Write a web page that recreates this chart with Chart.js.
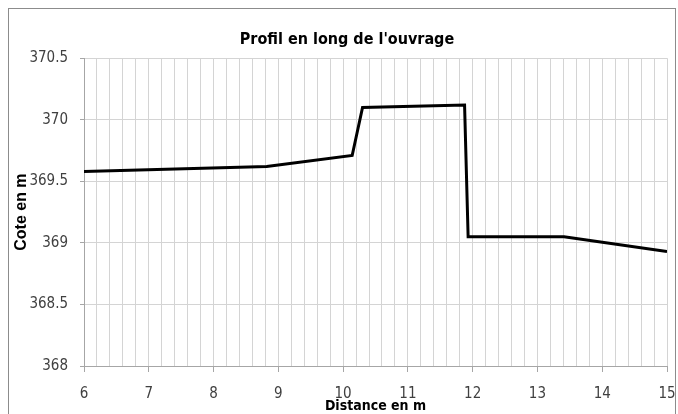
<!DOCTYPE html>
<html>
<head>
<meta charset="utf-8">
<script src="https://cdn.jsdelivr.net/npm/chart.js@4.4.1/dist/chart.umd.min.js"></script>
<style>
  html, body { margin: 0; padding: 0; background: #fff; }
  #wrap { width: 678px; height: 414px; position: relative; }
</style>
</head>
<body>
<div id="wrap"><canvas id="c" width="678" height="414"></canvas></div>
<script>
// Data
const distances = [6, 8.82, 10.14, 10.30, 11.875, 11.93, 13.41, 15];
const cotes     = [369.58, 369.62, 369.71, 370.10, 370.12, 369.05, 369.05, 368.93];
const xTickLabels = [6, 7, 8, 9, 10, 11, 12, 13, 14, 15];
const yTickLabels = [368, 368.5, 369, 369.5, 370, 370.5];
const chartTitle = "Profil en long de l'ouvrage";
const xTitle = "Distance en m";
const yTitle = "Cote en m";

const NARROW = "'Liberation Sans Narrow','DejaVu Sans Condensed','Liberation Sans',sans-serif";
const WIDE = "'Liberation Sans',Arial,sans-serif";
const GRID = '#d4d4d4';
const AXIS = '#a6a6a6';
const isLabelX = v => xTickLabels.some(t => Math.abs(t - v) < 1e-6);

const borderPlugin = {
  id: 'frame',
  beforeDraw(chart) {
    const ctx = chart.ctx;
    ctx.save();
    ctx.fillStyle = '#fff';
    ctx.fillRect(0, 0, chart.width, chart.height);
    ctx.strokeStyle = '#8c8c8c';
    ctx.lineWidth = 1;
    ctx.strokeRect(8.5, 8.5, 667, 480);
    ctx.restore();
  }
};

new Chart(document.getElementById('c'), {
  type: 'scatter',
  data: {
    datasets: [{
      data: distances.map((d, i) => ({x: d, y: cotes[i]})),
      showLine: true,
      borderColor: '#000',
      borderWidth: 3,
      pointRadius: 0,
      tension: 0,
      fill: false
    }]
  },
  options: {
    responsive: false,
    animation: false,
    layout: { padding: { left: 16, right: 0, top: 0, bottom: 0 } },
    plugins: {
      legend: { display: false },
      tooltip: { enabled: false },
      title: {
        display: true,
        text: chartTitle,
        color: '#000',
        font: { family: NARROW, size: 16, weight: 'bold', lineHeight: 1.2 },
        padding: { top: 30, bottom: 9 }
      }
    },
    scales: {
      x: {
        type: 'linear',
        min: 6, max: 15,
        afterFit: s => { s.height = 48; s.paddingRight = 11; s.paddingLeft = 0; },
        ticks: {
          stepSize: 0.2,
          autoSkip: false,
          maxRotation: 0,
          minRotation: 0,
          padding: 13,
          color: '#404040',
          font: { family: NARROW, size: 15 },
          callback: v => isLabelX(v) ? String(Math.round(v)) : ''
        },
        grid: {
          color: GRID,
          lineWidth: 1,
          drawTicks: true,
          tickLength: 6,
          tickColor: c => (c.tick && isLabelX(c.tick.value)) ? AXIS : 'rgba(0,0,0,0)'
        },
        border: { color: AXIS, width: 1 },
        title: {
          display: true,
          text: xTitle,
          color: '#000',
          font: { family: NARROW, size: 14, weight: 'bold', lineHeight: 1 },
          padding: { top: 0, bottom: 1 }
        }
      },
      y: {
        type: 'linear',
        min: 368, max: 370.5,
        afterFit: s => { s.width = 68; },
        afterBuildTicks: s => { s.ticks = yTickLabels.map(v => ({value: v})); },
        ticks: {
          padding: 12,
          color: '#404040',
          font: { family: NARROW, size: 15 },
          callback: v => String(v)
        },
        grid: {
          color: GRID,
          lineWidth: 1,
          tickLength: 4,
          tickColor: AXIS
        },
        border: { color: AXIS, width: 1 },
        title: {
          display: true,
          text: yTitle,
          color: '#000',
          font: { family: WIDE, size: 16, weight: 'bold', lineHeight: 1 },
          padding: { top: -2, bottom: 0 }
        }
      }
    }
  },
  plugins: [borderPlugin]
});
</script>
</body>
</html>
